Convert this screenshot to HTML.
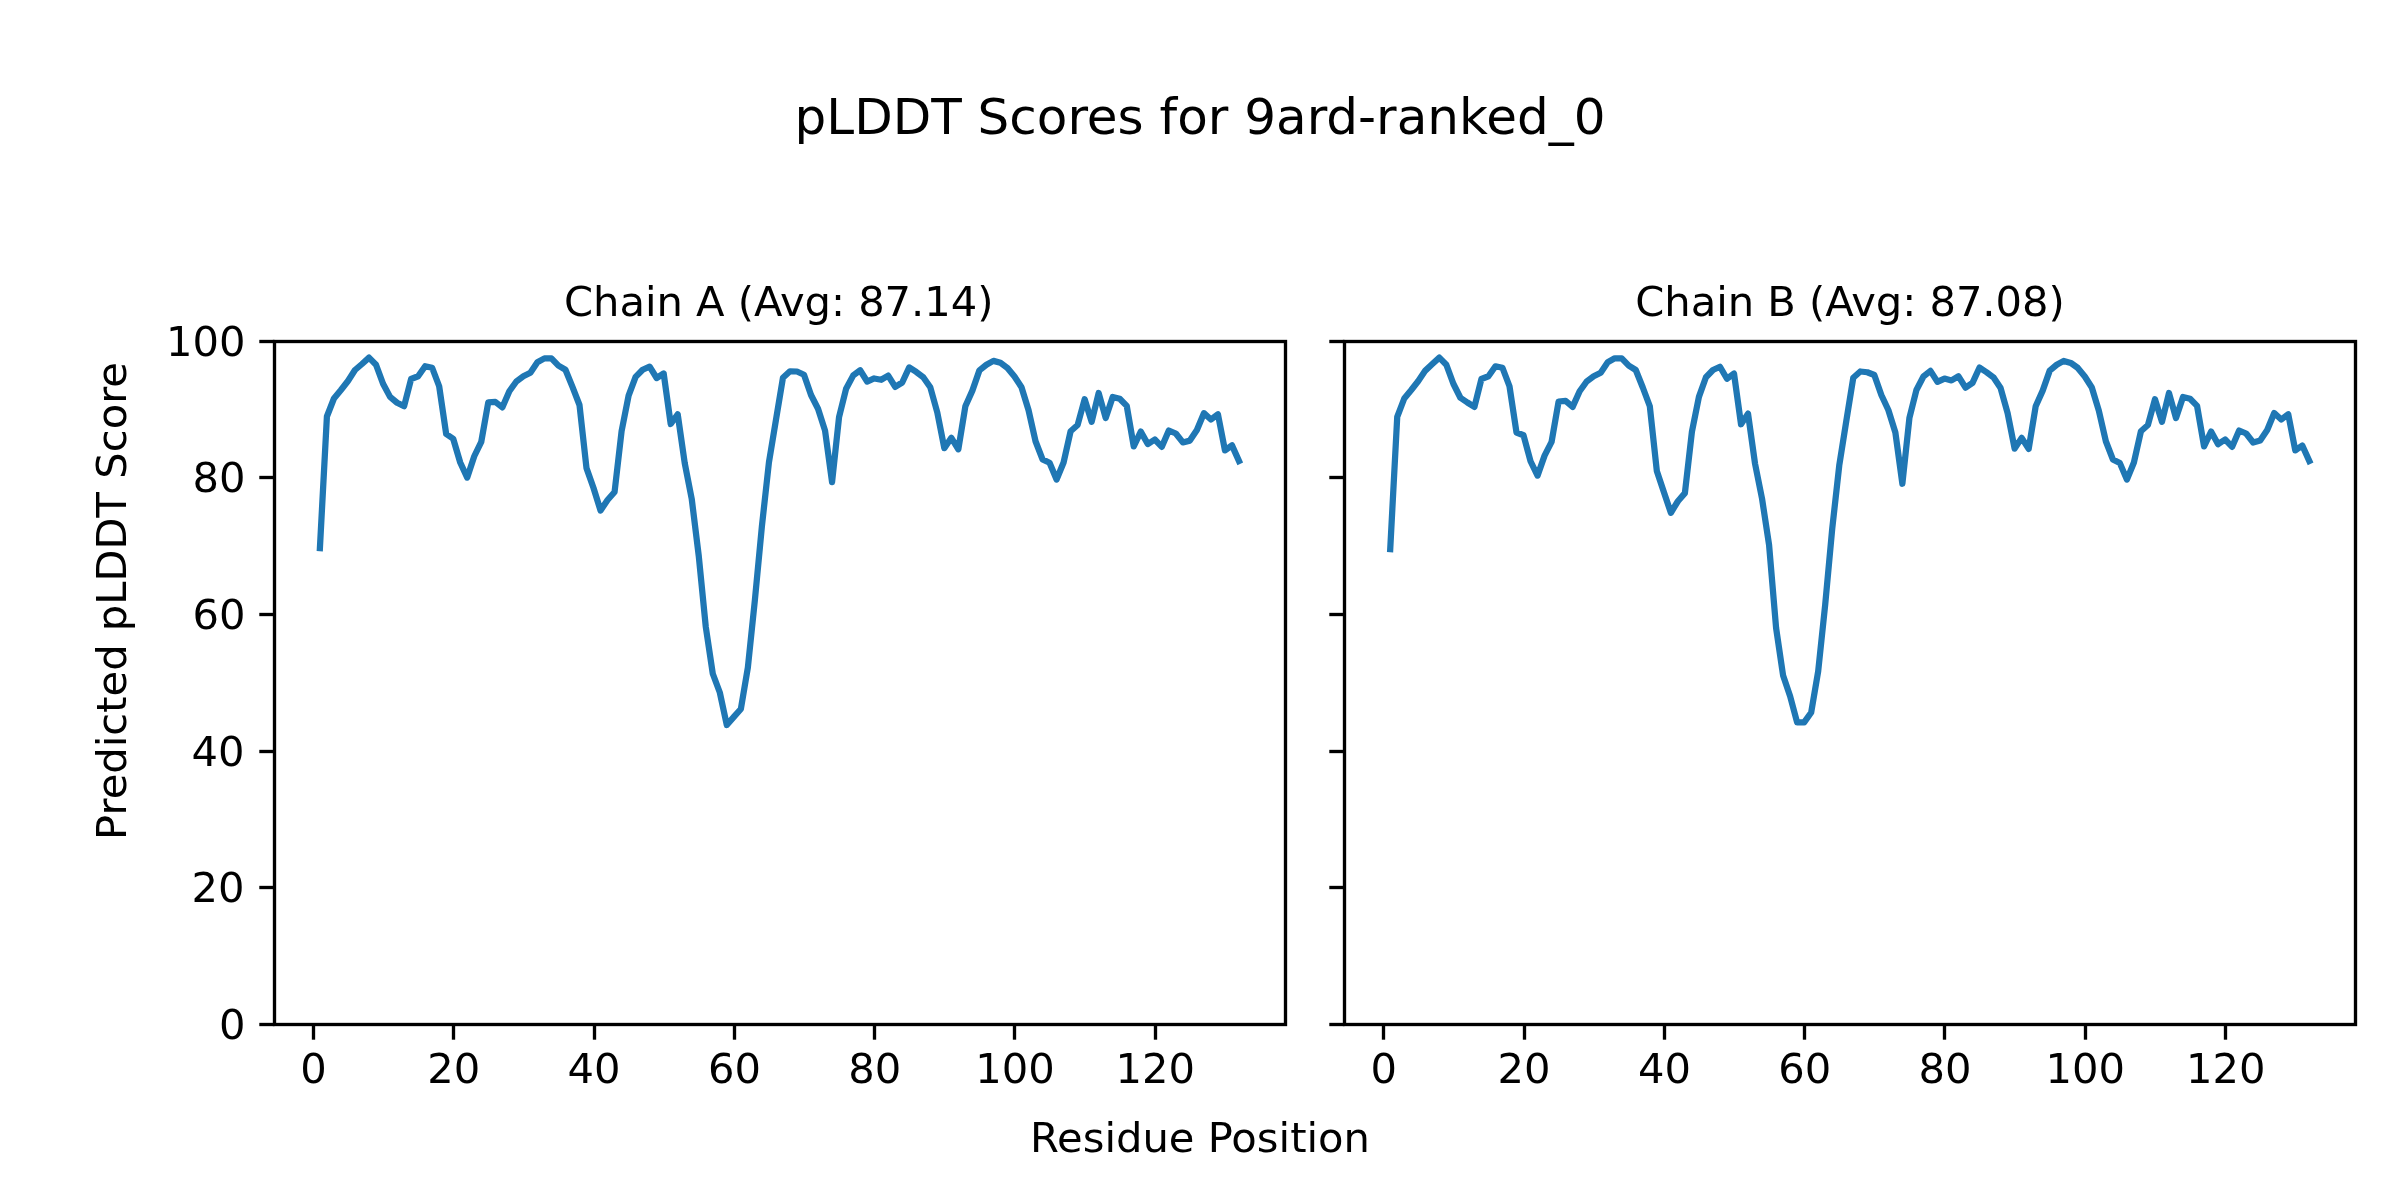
<!DOCTYPE html>
<html lang="en"><head><meta charset="utf-8"><title>pLDDT Scores for 9ard-ranked_0</title>
<style>html,body{margin:0;padding:0;background:#fff}svg{display:block;will-change:transform}text{filter:opacity(1)}</style></head>
<body>
<svg width="2400" height="1200" viewBox="0 0 2400 1200" font-family="'DejaVu Sans','Liberation Sans',sans-serif" font-size="41.667" fill="#000">
<rect width="2400" height="1200" fill="#fff"/>
<text x="1200" y="134.3" text-anchor="middle" font-size="50">pLDDT Scores for 9ard-ranked_0</text>
<text x="778.75" y="316.3" text-anchor="middle" textLength="429.5">Chain A (Avg: 87.14)</text>
<text x="1850.00" y="316.3" text-anchor="middle" textLength="429.5">Chain B (Avg: 87.08)</text>
<text x="1200" y="1152" text-anchor="middle">Residue Position</text>
<text transform="translate(126.2,601) rotate(-90)" text-anchor="middle">Predicted pLDDT Score</text>
<g fill="none" stroke="#1f77b4" stroke-width="6.25" stroke-linejoin="round" stroke-linecap="square">
<polyline points="319.90,548.10 326.91,416.50 333.93,398.50 340.94,390.00 347.96,381.00 354.98,370.00 361.99,364.00 369.01,357.65 376.02,364.75 383.04,383.75 390.06,396.90 397.07,402.75 404.09,406.17 411.10,379.00 418.12,376.25 425.14,366.21 432.15,367.75 439.17,386.25 446.18,434.00 453.20,438.75 460.22,462.50 467.23,477.57 474.25,456.25 481.26,441.90 488.28,402.25 495.30,401.90 502.31,407.40 509.33,391.25 516.34,381.50 523.36,376.25 530.38,372.75 537.39,362.25 544.41,358.38 551.42,358.40 558.44,365.60 565.46,369.75 572.47,386.90 579.49,405.00 586.50,468.10 593.52,488.00 600.54,510.50 607.55,500.00 614.57,492.00 621.58,431.25 628.60,395.60 635.62,376.90 642.63,369.75 649.65,366.63 656.66,378.00 663.68,373.50 670.70,423.98 677.71,414.24 684.73,463.10 691.74,499.00 698.76,556.00 705.78,626.90 712.79,673.75 719.81,692.50 726.82,725.04 733.84,716.90 740.86,709.00 747.87,667.50 754.89,600.00 761.90,526.25 768.92,462.50 775.94,420.00 782.95,377.75 789.97,371.28 796.98,371.50 804.00,374.75 811.02,395.00 818.03,408.75 825.05,430.60 832.06,482.20 839.08,416.90 846.10,388.75 853.11,375.60 860.13,370.25 867.14,381.52 874.16,378.48 881.18,379.75 888.19,375.58 895.21,386.85 902.22,382.50 909.24,367.44 916.26,371.90 923.27,377.25 930.29,387.25 937.30,412.50 944.32,448.14 951.34,437.85 958.35,449.33 965.37,406.25 972.38,390.60 979.40,370.40 986.42,364.75 993.43,360.88 1000.45,362.75 1007.46,367.90 1014.48,376.50 1021.50,387.25 1028.51,410.00 1035.53,441.25 1042.54,459.40 1049.56,462.75 1056.58,479.50 1063.59,462.50 1070.61,431.25 1077.62,425.00 1084.64,399.25 1091.66,421.70 1098.67,393.00 1105.69,418.00 1112.70,397.00 1119.72,398.75 1126.74,405.90 1133.75,446.38 1140.77,431.60 1147.78,444.07 1154.80,439.50 1161.82,446.82 1168.83,430.50 1175.85,433.50 1182.86,442.42 1189.88,440.60 1196.90,430.00 1203.91,413.18 1210.93,419.50 1217.94,414.25 1224.96,450.34 1231.98,445.38 1238.99,461.00"/>
<polyline points="1390.22,549.10 1397.23,416.90 1404.25,398.50 1411.26,390.00 1418.28,381.00 1425.30,370.60 1432.31,364.00 1439.33,357.65 1446.34,364.75 1453.36,383.75 1460.38,397.75 1467.39,402.50 1474.41,406.90 1481.42,379.00 1488.44,376.25 1495.46,366.29 1502.47,367.75 1509.49,386.25 1516.50,432.50 1523.52,435.25 1530.54,461.25 1537.55,475.60 1544.57,455.60 1551.58,441.90 1558.60,401.50 1565.62,400.90 1572.63,406.90 1579.65,391.25 1586.66,381.50 1593.68,376.25 1600.70,372.75 1607.71,362.25 1614.73,358.33 1621.74,358.40 1628.76,365.60 1635.78,370.00 1642.79,387.50 1649.81,406.25 1656.82,470.90 1663.84,491.90 1670.86,512.75 1677.87,501.25 1684.89,493.10 1691.90,431.90 1698.92,396.90 1705.94,377.25 1712.95,370.00 1719.97,366.78 1726.98,378.72 1734.00,373.50 1741.02,424.27 1748.03,413.62 1755.05,463.75 1762.06,498.75 1769.08,545.00 1776.10,628.00 1783.11,675.60 1790.13,696.25 1797.14,722.46 1804.16,722.41 1811.18,712.50 1818.19,671.25 1825.21,604.50 1832.22,528.75 1839.24,465.60 1846.26,421.25 1853.27,377.75 1860.29,371.50 1867.30,372.25 1874.32,375.00 1881.34,395.00 1888.35,410.00 1895.37,432.50 1902.38,483.77 1909.40,418.10 1916.42,390.00 1923.43,376.50 1930.45,370.88 1937.46,381.85 1944.48,378.55 1951.50,380.40 1958.51,376.30 1965.53,387.62 1972.54,382.90 1979.56,367.54 1986.58,372.25 1993.59,377.50 2000.61,388.10 2007.62,413.10 2014.64,448.60 2021.66,437.85 2028.67,448.92 2035.69,406.25 2042.70,390.60 2049.72,370.60 2056.74,364.75 2063.75,360.88 2070.77,362.90 2077.78,367.90 2084.80,376.50 2091.82,387.50 2098.83,410.60 2105.85,441.25 2112.86,459.40 2119.88,463.10 2126.90,479.60 2133.91,462.50 2140.93,431.25 2147.94,425.00 2154.96,399.25 2161.98,421.75 2168.99,393.00 2176.01,418.10 2183.02,397.00 2190.04,398.75 2197.06,405.90 2204.07,446.38 2211.09,431.60 2218.10,444.20 2225.12,439.50 2232.14,446.82 2239.15,430.50 2246.17,433.50 2253.18,442.50 2260.20,440.60 2267.22,430.00 2274.23,413.06 2281.25,419.50 2288.26,414.25 2295.28,450.40 2302.30,445.53 2309.31,461.00"/>
</g>
<g stroke="#000" stroke-width="3.333" fill="none"><line x1="313.5" y1="1024.5" x2="313.5" y2="1039.70"/><line x1="453.5" y1="1024.5" x2="453.5" y2="1039.70"/><line x1="594.5" y1="1024.5" x2="594.5" y2="1039.70"/><line x1="734.5" y1="1024.5" x2="734.5" y2="1039.70"/><line x1="874.5" y1="1024.5" x2="874.5" y2="1039.70"/><line x1="1014.5" y1="1024.5" x2="1014.5" y2="1039.70"/><line x1="1155.5" y1="1024.5" x2="1155.5" y2="1039.70"/><line x1="259.30" y1="1024.5" x2="274.5" y2="1024.5"/><line x1="259.30" y1="887.5" x2="274.5" y2="887.5"/><line x1="259.30" y1="751.5" x2="274.5" y2="751.5"/><line x1="259.30" y1="614.5" x2="274.5" y2="614.5"/><line x1="259.30" y1="477.5" x2="274.5" y2="477.5"/><line x1="259.30" y1="341.5" x2="274.5" y2="341.5"/><rect x="274.5" y="341.5" width="1011.0" height="683.0" stroke-linejoin="miter"/></g><text x="313.44" y="1082.7" text-anchor="middle">0</text><text x="453.76" y="1082.7" text-anchor="middle">20</text><text x="594.08" y="1082.7" text-anchor="middle">40</text><text x="734.40" y="1082.7" text-anchor="middle">60</text><text x="874.72" y="1082.7" text-anchor="middle">80</text><text x="1015.04" y="1082.7" text-anchor="middle">100</text><text x="1155.36" y="1082.7" text-anchor="middle">120</text><text x="245.60" y="1039.30" text-anchor="end">0</text><text x="244.60" y="901.70" text-anchor="end">20</text><text x="244.40" y="766.10" text-anchor="end">40</text><text x="245.60" y="628.50" text-anchor="end">60</text><text x="245.60" y="491.90" text-anchor="end">80</text><text x="245.60" y="356.30" text-anchor="end">100</text>
<g stroke="#000" stroke-width="3.333" fill="none"><line x1="1383.5" y1="1024.5" x2="1383.5" y2="1039.70"/><line x1="1524.5" y1="1024.5" x2="1524.5" y2="1039.70"/><line x1="1664.5" y1="1024.5" x2="1664.5" y2="1039.70"/><line x1="1804.5" y1="1024.5" x2="1804.5" y2="1039.70"/><line x1="1944.5" y1="1024.5" x2="1944.5" y2="1039.70"/><line x1="2085.5" y1="1024.5" x2="2085.5" y2="1039.70"/><line x1="2225.5" y1="1024.5" x2="2225.5" y2="1039.70"/><line x1="1329.30" y1="1024.5" x2="1344.5" y2="1024.5"/><line x1="1329.30" y1="887.5" x2="1344.5" y2="887.5"/><line x1="1329.30" y1="751.5" x2="1344.5" y2="751.5"/><line x1="1329.30" y1="614.5" x2="1344.5" y2="614.5"/><line x1="1329.30" y1="477.5" x2="1344.5" y2="477.5"/><line x1="1329.30" y1="341.5" x2="1344.5" y2="341.5"/><rect x="1344.5" y="341.5" width="1011.0" height="683.0" stroke-linejoin="miter"/></g><text x="1383.76" y="1082.7" text-anchor="middle">0</text><text x="1524.08" y="1082.7" text-anchor="middle">20</text><text x="1664.40" y="1082.7" text-anchor="middle">40</text><text x="1804.72" y="1082.7" text-anchor="middle">60</text><text x="1945.04" y="1082.7" text-anchor="middle">80</text><text x="2085.36" y="1082.7" text-anchor="middle">100</text><text x="2225.68" y="1082.7" text-anchor="middle">120</text>
</svg>
</body></html>
